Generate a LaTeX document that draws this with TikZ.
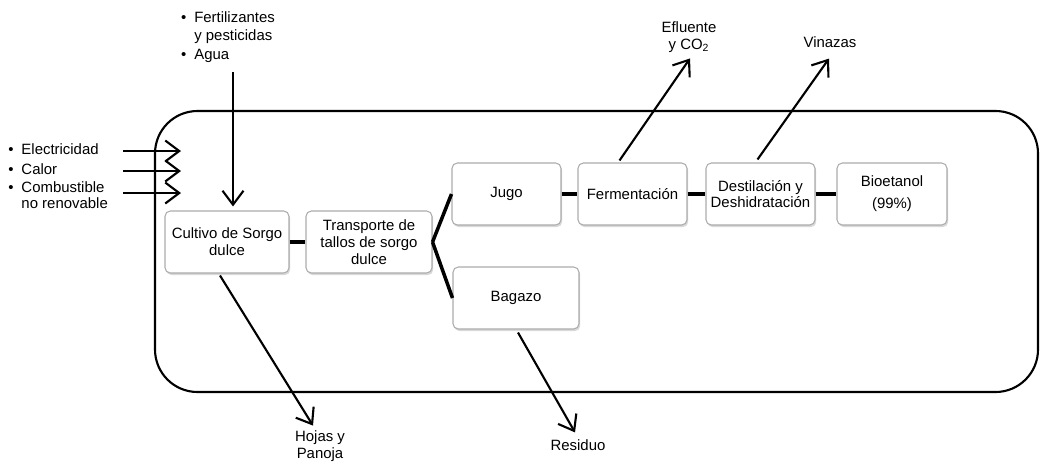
\documentclass[tikz,border=0pt]{standalone}
\usepackage{fontspec}
\setmainfont{Liberation Sans}
\usetikzlibrary{arrows.meta,calc,shadows}
\tikzset{caja/.style={draw=gray!65,fill=white,rounded corners=3pt,line width=0.6pt,
   align=center,minimum height=1.24cm,inner sep=2pt,
   drop shadow={shadow xshift=0.7pt,shadow yshift=-1.2pt,opacity=0.3}},
 une/.style={line width=2pt},
 flecha/.style={line width=1.2pt,-{Straight Barb[length=2.8mm,width=4.2mm,line width=1.2pt]}},
 etiqueta/.style={align=center,inner sep=1pt},
 lista/.style={inner sep=0pt},
 }
\newcommand{\vinetas}[1]{\begin{tabular}{@{}l@{\hspace{4.5pt}}l@{}}#1\end{tabular}}

\begin{document}
\begin{tikzpicture}[x=0.02cm,y=-0.02cm,font=\fontsize{8.5}{9.5}\selectfont]
    \useasboundingbox (0,0) rectangle (1040,463);
    % sistema
    \draw[line width=1.2pt,rounded corners=0.85cm] (155,111) rectangle (1038,392);

    \node[caja,minimum width=2.48cm] (cultivo) at (227,242) {Cultivo de Sorgo\\dulce};
    \node[caja,minimum width=2.52cm] (transporte) at (369,242) {Transporte de\\tallos de sorgo\\dulce};
    \node[caja,minimum width=2.18cm] (jugo) at (506.5,194) {Jugo};
    \node[caja,minimum width=2.18cm] (fermentacion) at (632.5,194) {Fermentación};
    \node[caja,minimum width=2.18cm] (destilacion) at (760.5,194) {Destilación y\\Deshidratación};
    \node[caja,minimum width=2.2cm] (bioetanol) at (892,194) {Bioetanol\\[3pt](99\%)};
    \node[caja,minimum width=2.52cm] (bagazo) at (516,298) {Bagazo};

    \draw[une] (cultivo) -- (transporte);
    \draw[une] (transporte.east) -- (jugo.west);
    \draw[une] (transporte.east) -- (bagazo.west);
    \draw[une] (jugo) -- (fermentacion) -- (destilacion) -- (bioetanol);

    % entradas y salidas
    \node[lista] (insumos) at (228,37) {\renewcommand{\arraystretch}{1.1}\vinetas{\textbullet & Fertilizantes\\ & y pesticidas\\ \textbullet & Agua}};
    \node[lista,anchor=west] (elec) at (8,151) {\vinetas{\textbullet & Electricidad}};
    \node[lista,anchor=west] (calor) at (8,171) {\vinetas{\textbullet & Calor}};
    \node[lista,anchor=north west] (combus) at (8,180) {\vinetas{\textbullet & Combustible\\ & no renovable}};
    \coordinate (ea) at (123,0);
    \coordinate (eb) at (181,0);

    \node[etiqueta] (efluente) at (689,37) {Efluente\\y CO\textsubscript{2}};
    \node[etiqueta] (vinazas) at (830,42) {Vinazas};
    \node[etiqueta] (hojas) at (320,446) {Hojas y\\Panoja};
    \node[etiqueta] (residuo) at (578,445) {Residuo};

    \draw[flecha] ($(insumos.south -| cultivo.north)+(6,7)$) -- ($(cultivo.north)+(6,-4)$);
    \draw[flecha] (elec.east -| ea) -- (elec.east -| eb);
    \draw[flecha] (calor.east -| ea) -- (calor.east -| eb);
    \draw[flecha] ($(combus.north -| ea)+(0,13)$) -- ($(combus.north -| eb)+(0,13)$);
    \draw[flecha] ($(cultivo.south)+(-7,2)$) -- ($(hojas.north)+(-7,-3)$);
    \draw[flecha] ($(bagazo.south)+(2,3)$) -- ($(residuo.north)+(-3,-5)$);
    \draw[flecha] ($(fermentacion.north)+(-13,-2)$) -- ($(efluente.south)+(1,4)$);
    \draw[flecha] ($(destilacion.north)+(-3,-3)$) -- ($(vinazas.south)+(-1,9)$);
\end{tikzpicture}
\end{document}
